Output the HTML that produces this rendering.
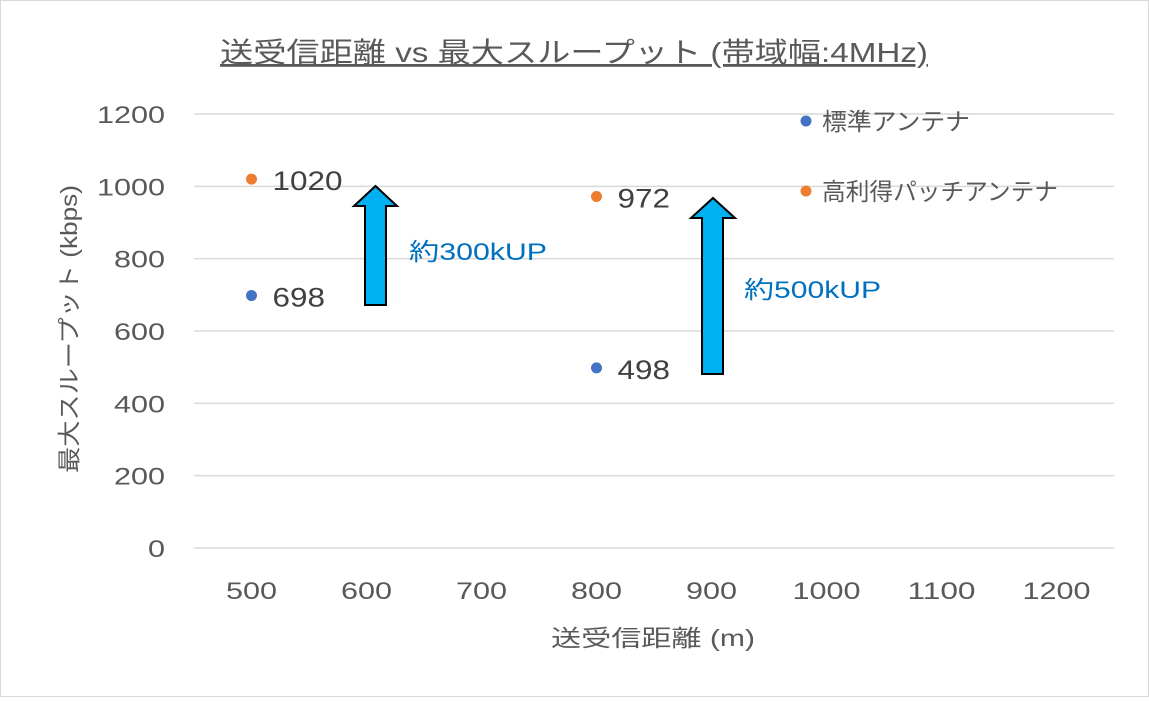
<!DOCTYPE html>
<html><head><meta charset="utf-8"><style>
body{margin:0;background:#fff;}
svg text{font-family:"Liberation Sans","Noto Sans CJK JP",sans-serif;}
</style></head><body>
<svg width="1149" height="697" xmlns="http://www.w3.org/2000/svg">
<rect x="0.5" y="0.5" width="1148" height="696" fill="#fff" stroke="#d9d9d9"/>
<text x="220" y="62" font-size="28" fill="#595959" text-decoration="underline" textLength="708" lengthAdjust="spacingAndGlyphs">送受信距離 vs 最大スループット (帯域幅:4MHz)</text>
<g id="grid"></g><g id="ticks"></g>
<text transform="translate(77,473) rotate(-90)" font-size="23" fill="#595959" textLength="288" lengthAdjust="spacingAndGlyphs">最大スループット (kbps)</text>
<text x="551" y="646" font-size="23" fill="#595959" textLength="204" lengthAdjust="spacingAndGlyphs">送受信距離 (m)</text>
<g id="marks"></g>
<polygon points="365,305 386,305 386,206 397,206 375.5,186 354,206 365,206" fill="#00b0f0" stroke="#000" stroke-width="2"/>
<polygon points="702,374 723,374 723,218 735,218 713,198 691,218 702,218" fill="#00b0f0" stroke="#000" stroke-width="2"/>
<text x="409" y="260" font-size="24" fill="#0070c0" textLength="138" lengthAdjust="spacingAndGlyphs">約300kUP</text>
<text x="744" y="298" font-size="24" fill="#0070c0" textLength="137" lengthAdjust="spacingAndGlyphs">約500kUP</text>
<circle cx="806" cy="121" r="5.5" fill="#4472c4"/>
<text x="822" y="130" font-size="24" fill="#595959" textLength="148" lengthAdjust="spacingAndGlyphs">標準アンテナ</text>
<circle cx="806" cy="191" r="5.5" fill="#ed7d31"/>
<text x="822" y="200" font-size="24" fill="#595959" textLength="236" lengthAdjust="spacingAndGlyphs">高利得パッチアンテナ</text>
</svg>
<script>
const xTicks=[500,600,700,800,900,1000,1100,1200];
const yTicks=[0,200,400,600,800,1000,1200];
const distances=[500,800];
const standardValues=[698,498];
const patchValues=[1020,972];
const NS='http://www.w3.org/2000/svg';
function xs(v){return 194+(v-450)*1.15;}
function ys(v){return 548-v*(434/1200);}
function mk(t,a,p){const e=document.createElementNS(NS,t);for(const k in a)e.setAttribute(k,a[k]);p.appendChild(e);return e;}
const grid=document.getElementById('grid'),ticks=document.getElementById('ticks'),marks=document.getElementById('marks');
yTicks.forEach(v=>{
 const l=mk('line',{x1:194,x2:1114,y1:ys(v),y2:ys(v),stroke:'#d9d9d9','stroke-width':1.5},grid);
 
 
 const n=String(v).length;
 const t=mk('text',{x:165-n*17,y:ys(v)+9,'font-size':24,fill:'#595959',textLength:n*17,lengthAdjust:'spacingAndGlyphs'},ticks);
 t.textContent=v;
 
 
});
xTicks.forEach(v=>{
 const n=String(v).length;
 const t=mk('text',{x:xs(v)-n*8.5,y:599,'font-size':24,fill:'#595959',textLength:n*17,lengthAdjust:'spacingAndGlyphs'},ticks);
 t.textContent=v;
 
 
});
function series(vals,color,name){
 vals.forEach((v,i)=>{
  const c=mk('circle',{cx:xs(distances[i]),cy:ys(v),r:5.5,fill:color},marks);
  
  
  const n=String(v).length;
  const t=mk('text',{x:xs(distances[i])+21,y:ys(v)+11,'font-size':27,fill:'#404040',textLength:n*17.5,lengthAdjust:'spacingAndGlyphs'},marks);
  t.textContent=v;
  
  
 });
}
series(standardValues,'#4472c4','standard');
series(patchValues,'#ed7d31','patch');
</script>
</body></html>
